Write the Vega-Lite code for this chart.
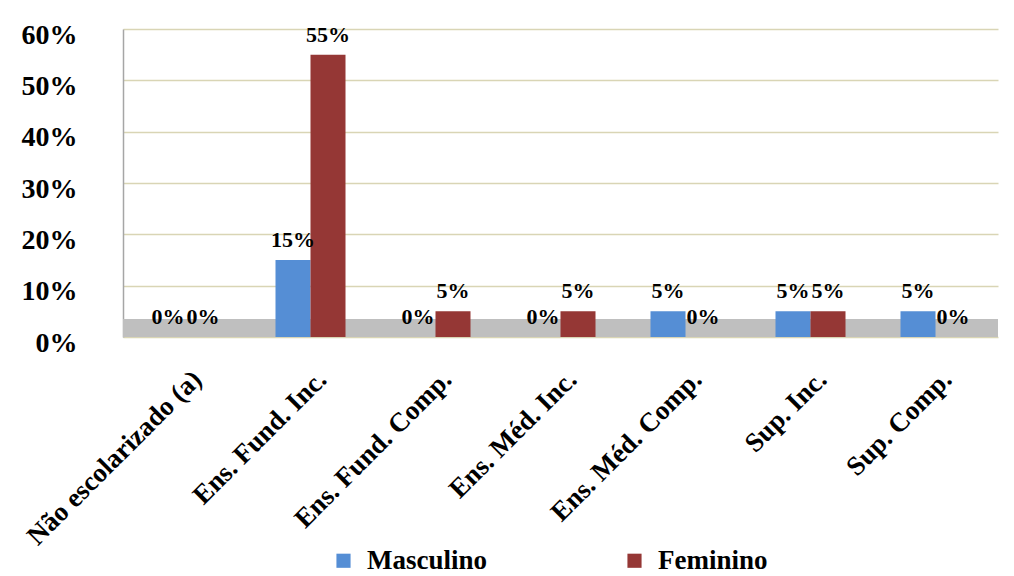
{
  "$schema": "https://vega.github.io/schema/vega-lite/v6.json",
  "width": 875,
  "height": 308,
  "autosize": {"type": "none"},
  "padding": {"left": 123, "top": 29, "right": 16, "bottom": 239},
  "background": "white",
  "config": {
    "view": {"stroke": null},
    "font": "Liberation Serif"
  },
  "data": {
    "values": [
      {"nivel": "Não escolarizado (a)", "sexo": "Masculino", "valor": 0},
      {"nivel": "Não escolarizado (a)", "sexo": "Feminino", "valor": 0},
      {"nivel": "Ens. Fund. Inc.", "sexo": "Masculino", "valor": 0.15},
      {"nivel": "Ens. Fund. Inc.", "sexo": "Feminino", "valor": 0.55},
      {"nivel": "Ens. Fund. Comp.", "sexo": "Masculino", "valor": 0},
      {"nivel": "Ens. Fund. Comp.", "sexo": "Feminino", "valor": 0.05},
      {"nivel": "Ens. Méd. Inc.", "sexo": "Masculino", "valor": 0},
      {"nivel": "Ens. Méd. Inc.", "sexo": "Feminino", "valor": 0.05},
      {"nivel": "Ens. Méd. Comp.", "sexo": "Masculino", "valor": 0.05},
      {"nivel": "Ens. Méd. Comp.", "sexo": "Feminino", "valor": 0},
      {"nivel": "Sup. Inc.", "sexo": "Masculino", "valor": 0.05},
      {"nivel": "Sup. Inc.", "sexo": "Feminino", "valor": 0.05},
      {"nivel": "Sup. Comp.", "sexo": "Masculino", "valor": 0.05},
      {"nivel": "Sup. Comp.", "sexo": "Feminino", "valor": 0}
    ]
  },
  "encoding": {
    "x": {
      "field": "nivel",
      "type": "nominal",
      "sort": null,
      "scale": {"paddingInner": 0.44, "paddingOuter": 0.22},
      "axis": {
        "title": null,
        "labelAngle": -45,
        "labelAlign": "right",
        "labelBaseline": "middle",
        "labelFont": "Liberation Serif",
        "labelFontWeight": "bold",
        "labelFontSize": 27,
        "labelColor": "black",
        "labelPadding": 38,
        "labelOffset": 12,
        "labelLimit": 400,
        "ticks": false,
        "domain": false
      }
    },
    "xOffset": {"field": "sexo", "type": "nominal", "sort": ["Masculino", "Feminino"]},
    "y": {
      "field": "valor",
      "type": "quantitative",
      "scale": {"domain": [0, 0.6]},
      "axis": {
        "title": null,
        "format": ".0%",
        "values": [0, 0.1, 0.2, 0.3, 0.4, 0.5, 0.6],
        "labelFont": "Liberation Serif",
        "labelFontWeight": "bold",
        "labelFontSize": 28,
        "labelColor": "black",
        "labelPadding": 46,
        "labelOffset": 6,
        "ticks": false,
        "domainColor": "#a6a6a6",
        "domainWidth": 1.5,
        "gridColor": "#d9d5b5",
        "gridWidth": 1.5
      }
    }
  },
  "layer": [
    {
      "mark": {"type": "rect", "color": "#bfbfbf"},
      "encoding": {
        "x": null,
        "xOffset": null,
        "y": {"datum": 0},
        "y2": {"datum": 0.035}
      }
    },
    {
      "mark": {"type": "bar", "stroke": null},
      "encoding": {
        "color": {
          "field": "sexo",
          "type": "nominal",
          "sort": ["Masculino", "Feminino"],
          "scale": {"domain": ["Masculino", "Feminino"], "range": ["#558ed5", "#953735"]},
          "legend": {
            "title": null,
            "orient": "none",
            "direction": "horizontal",
            "legendX": 207,
            "legendY": 518,
            "symbolType": "square",
            "symbolSize": 200,
            "symbolStrokeWidth": 0,
            "labelFont": "Liberation Serif",
            "labelFontWeight": "bold",
            "labelFontSize": 27,
            "labelColor": "black",
            "labelOffset": 10,
            "columnPadding": 133,
            "labelLimit": 300
          }
        }
      }
    },
    {
      "mark": {
        "type": "text",
        "baseline": "bottom",
        "dy": -8,
        "font": "Liberation Serif",
        "fontWeight": "bold",
        "fontSize": 22,
        "color": "black"
      },
      "encoding": {
        "text": {"field": "valor", "type": "quantitative", "format": ".0%"}
      }
    }
  ]
}
